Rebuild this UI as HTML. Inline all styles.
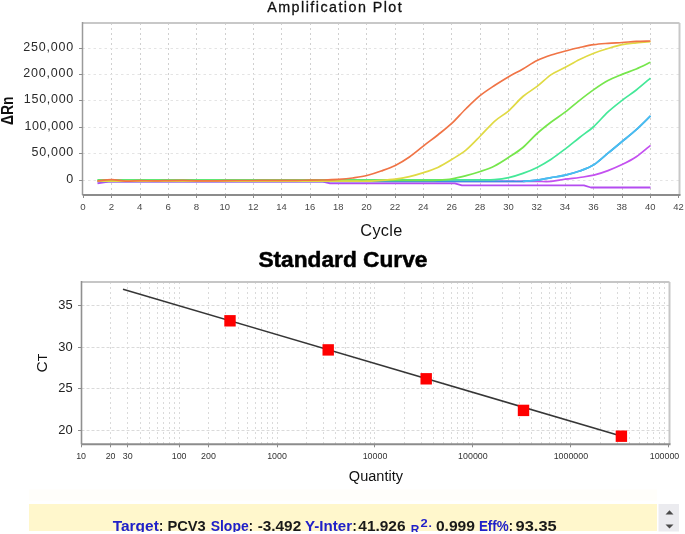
<!DOCTYPE html>
<html><head><meta charset="utf-8"><style>
html,body{margin:0;padding:0;background:#fff;width:685px;height:534px;overflow:hidden}
svg text{font-family:"Liberation Sans", sans-serif}
</style></head><body>
<svg width="685" height="534" viewBox="0 0 685 534" style="position:absolute;left:0;top:0;filter:blur(0.35px)">
<rect x="0" y="0" width="685" height="534" fill="#fff"/>
<line x1="111.5" y1="23.0" x2="111.5" y2="195.0" stroke="#d0d0d0" stroke-width="1" stroke-dasharray="2,3"/>
<line x1="140.5" y1="23.0" x2="140.5" y2="195.0" stroke="#d0d0d0" stroke-width="1" stroke-dasharray="2,3"/>
<line x1="168.5" y1="23.0" x2="168.5" y2="195.0" stroke="#d0d0d0" stroke-width="1" stroke-dasharray="2,3"/>
<line x1="196.5" y1="23.0" x2="196.5" y2="195.0" stroke="#d0d0d0" stroke-width="1" stroke-dasharray="2,3"/>
<line x1="225.5" y1="23.0" x2="225.5" y2="195.0" stroke="#d0d0d0" stroke-width="1" stroke-dasharray="2,3"/>
<line x1="253.5" y1="23.0" x2="253.5" y2="195.0" stroke="#d0d0d0" stroke-width="1" stroke-dasharray="2,3"/>
<line x1="281.5" y1="23.0" x2="281.5" y2="195.0" stroke="#d0d0d0" stroke-width="1" stroke-dasharray="2,3"/>
<line x1="310.5" y1="23.0" x2="310.5" y2="195.0" stroke="#d0d0d0" stroke-width="1" stroke-dasharray="2,3"/>
<line x1="338.5" y1="23.0" x2="338.5" y2="195.0" stroke="#d0d0d0" stroke-width="1" stroke-dasharray="2,3"/>
<line x1="366.5" y1="23.0" x2="366.5" y2="195.0" stroke="#d0d0d0" stroke-width="1" stroke-dasharray="2,3"/>
<line x1="395.5" y1="23.0" x2="395.5" y2="195.0" stroke="#d0d0d0" stroke-width="1" stroke-dasharray="2,3"/>
<line x1="423.5" y1="23.0" x2="423.5" y2="195.0" stroke="#d0d0d0" stroke-width="1" stroke-dasharray="2,3"/>
<line x1="451.5" y1="23.0" x2="451.5" y2="195.0" stroke="#d0d0d0" stroke-width="1" stroke-dasharray="2,3"/>
<line x1="480.5" y1="23.0" x2="480.5" y2="195.0" stroke="#d0d0d0" stroke-width="1" stroke-dasharray="2,3"/>
<line x1="508.5" y1="23.0" x2="508.5" y2="195.0" stroke="#d0d0d0" stroke-width="1" stroke-dasharray="2,3"/>
<line x1="537.5" y1="23.0" x2="537.5" y2="195.0" stroke="#d0d0d0" stroke-width="1" stroke-dasharray="2,3"/>
<line x1="565.5" y1="23.0" x2="565.5" y2="195.0" stroke="#d0d0d0" stroke-width="1" stroke-dasharray="2,3"/>
<line x1="593.5" y1="23.0" x2="593.5" y2="195.0" stroke="#d0d0d0" stroke-width="1" stroke-dasharray="2,3"/>
<line x1="622.5" y1="23.0" x2="622.5" y2="195.0" stroke="#d0d0d0" stroke-width="1" stroke-dasharray="2,3"/>
<line x1="650.5" y1="23.0" x2="650.5" y2="195.0" stroke="#d0d0d0" stroke-width="1" stroke-dasharray="2,3"/>
<line x1="82.5" y1="180.5" x2="679.5" y2="180.5" stroke="#e4e4e4" stroke-width="1" stroke-dasharray="2.5,3"/>
<line x1="82.5" y1="153.5" x2="679.5" y2="153.5" stroke="#e4e4e4" stroke-width="1" stroke-dasharray="2.5,3"/>
<line x1="82.5" y1="127.5" x2="679.5" y2="127.5" stroke="#e4e4e4" stroke-width="1" stroke-dasharray="2.5,3"/>
<line x1="82.5" y1="100.5" x2="679.5" y2="100.5" stroke="#e4e4e4" stroke-width="1" stroke-dasharray="2.5,3"/>
<line x1="82.5" y1="74.5" x2="679.5" y2="74.5" stroke="#e4e4e4" stroke-width="1" stroke-dasharray="2.5,3"/>
<line x1="82.5" y1="48.5" x2="679.5" y2="48.5" stroke="#e4e4e4" stroke-width="1" stroke-dasharray="2.5,3"/>
<path d="M97.5,183.3 L108.8,181.6 L322.9,181.6 L330.0,183.3 L454.8,183.3 L461.9,185.3 L583.9,185.3 L590.9,187.5 L650.5,187.5" fill="none" stroke="#b44cf0" stroke-width="1.8" stroke-linejoin="round"/>
<path d="M97.5,181.4 C99.8,181.4 106.9,181.4 111.7,181.4 C116.4,181.4 121.1,181.4 125.8,181.4 C130.6,181.4 135.3,181.4 140.0,181.4 C144.7,181.4 149.5,181.4 154.2,181.4 C158.9,181.4 163.7,181.4 168.4,181.4 C173.1,181.4 177.8,181.4 182.6,181.4 C187.3,181.4 192.0,181.4 196.7,181.4 C201.5,181.4 206.2,181.4 210.9,181.4 C215.6,181.4 220.4,181.4 225.1,181.4 C229.8,181.4 234.6,181.4 239.3,181.4 C244.0,181.4 248.7,181.4 253.5,181.4 C258.2,181.4 262.9,181.4 267.6,181.4 C272.4,181.4 277.1,181.4 281.8,181.4 C286.5,181.4 291.3,181.4 296.0,181.4 C300.7,181.4 305.5,181.4 310.2,181.4 C314.9,181.4 319.6,181.4 324.4,181.4 C329.1,181.4 333.8,181.4 338.5,181.4 C343.3,181.4 348.0,181.4 352.7,181.4 C357.4,181.4 362.2,181.4 366.9,181.4 C371.6,181.4 376.4,181.4 381.1,181.4 C385.8,181.4 390.5,181.4 395.3,181.4 C400.0,181.4 404.7,181.4 409.4,181.4 C414.2,181.4 418.9,181.4 423.6,181.4 C428.3,181.4 433.1,181.4 437.8,181.4 C442.5,181.4 447.3,181.4 452.0,181.4 C456.7,181.4 461.4,181.4 466.2,181.4 C470.9,181.4 475.6,181.4 480.3,181.4 C485.1,181.4 489.8,181.4 494.5,181.4 C499.2,181.4 504.0,181.4 508.7,181.4 C513.4,181.4 518.2,181.4 522.9,181.4 C527.6,181.4 532.3,181.4 537.1,181.4 C541.8,181.4 546.5,181.8 551.2,181.4 C556.0,181.0 560.7,179.8 565.4,179.2 C570.1,178.5 574.9,178.2 579.6,177.5 C584.3,176.8 589.1,176.3 593.8,175.2 C598.5,174.0 603.2,172.4 608.0,170.6 C612.7,168.8 617.4,166.9 622.1,164.6 C626.9,162.3 631.6,160.0 636.3,156.8 C641.0,153.6 648.1,147.3 650.5,145.4" fill="none" stroke="#c450f0" stroke-width="1.7" stroke-linejoin="round"/>
<path d="M97.5,181.4 C99.8,181.4 106.9,181.4 111.7,181.4 C116.4,181.4 121.1,181.4 125.8,181.4 C130.6,181.4 135.3,181.4 140.0,181.4 C144.7,181.4 149.5,181.4 154.2,181.4 C158.9,181.4 163.7,181.4 168.4,181.4 C173.1,181.4 177.8,181.4 182.6,181.4 C187.3,181.4 192.0,181.4 196.7,181.4 C201.5,181.4 206.2,181.4 210.9,181.4 C215.6,181.4 220.4,181.4 225.1,181.4 C229.8,181.4 234.6,181.4 239.3,181.4 C244.0,181.4 248.7,181.4 253.5,181.4 C258.2,181.4 262.9,181.4 267.6,181.4 C272.4,181.4 277.1,181.4 281.8,181.4 C286.5,181.4 291.3,181.4 296.0,181.4 C300.7,181.4 305.5,181.4 310.2,181.4 C314.9,181.4 319.6,181.4 324.4,181.4 C329.1,181.4 333.8,181.4 338.5,181.4 C343.3,181.4 348.0,181.4 352.7,181.4 C357.4,181.4 362.2,181.4 366.9,181.4 C371.6,181.4 376.4,181.4 381.1,181.4 C385.8,181.4 390.5,181.4 395.3,181.4 C400.0,181.4 404.7,181.4 409.4,181.4 C414.2,181.4 418.9,181.4 423.6,181.4 C428.3,181.4 433.1,181.4 437.8,181.4 C442.5,181.4 447.3,181.4 452.0,181.4 C456.7,181.4 461.4,181.4 466.2,181.4 C470.9,181.4 475.6,181.4 480.3,181.4 C485.1,181.4 489.8,181.4 494.5,181.4 C499.2,181.4 504.0,181.4 508.7,181.4 C513.4,181.4 518.2,181.6 522.9,181.4 C527.6,181.2 532.3,180.8 537.1,180.2 C541.8,179.6 546.5,178.4 551.2,177.6 C556.0,176.8 560.7,176.2 565.4,175.1 C570.1,174.0 574.9,172.7 579.6,171.0 C584.3,169.3 589.1,167.8 593.8,164.8 C598.5,161.8 603.2,157.1 608.0,153.2 C612.7,149.3 617.4,145.4 622.1,141.5 C626.9,137.6 631.6,134.0 636.3,129.7 C641.0,125.4 648.1,118.2 650.5,115.9" fill="none" stroke="#3c90e4" stroke-width="1.7" stroke-linejoin="round"/>
<path d="M97.5,179.9 C99.8,179.9 106.9,179.9 111.7,179.9 C116.4,179.9 121.1,179.9 125.8,179.9 C130.6,179.9 135.3,179.9 140.0,179.9 C144.7,179.9 149.5,179.9 154.2,179.9 C158.9,179.9 163.7,179.9 168.4,179.9 C173.1,179.9 177.8,179.9 182.6,179.9 C187.3,179.9 192.0,179.9 196.7,179.9 C201.5,179.9 206.2,179.9 210.9,179.9 C215.6,179.9 220.4,179.9 225.1,179.9 C229.8,179.9 234.6,179.9 239.3,179.9 C244.0,179.9 248.7,179.9 253.5,179.9 C258.2,179.9 262.9,179.9 267.6,179.9 C272.4,179.9 277.1,179.9 281.8,179.9 C286.5,179.9 291.3,179.9 296.0,179.9 C300.7,179.9 305.5,179.9 310.2,179.9 C314.9,179.9 319.6,179.9 324.4,179.9 C329.1,179.9 333.8,179.9 338.5,179.9 C343.3,179.9 348.0,179.9 352.7,179.9 C357.4,179.9 362.2,179.9 366.9,179.9 C371.6,179.9 376.4,179.9 381.1,179.9 C385.8,179.9 390.5,179.9 395.3,179.9 C400.0,179.9 404.7,179.9 409.4,179.9 C414.2,179.9 418.9,179.9 423.6,179.9 C428.3,179.9 433.1,179.9 437.8,179.9 C442.5,179.9 447.3,179.9 452.0,179.9 C456.7,179.9 461.4,179.9 466.2,179.9 C470.9,179.9 475.6,180.0 480.3,179.9 C485.1,179.8 489.8,180.0 494.5,179.6 C499.2,179.2 504.0,178.6 508.7,177.6 C513.4,176.6 518.2,175.1 522.9,173.4 C527.6,171.7 532.3,169.8 537.1,167.4 C541.8,165.0 546.5,162.3 551.2,159.2 C556.0,156.1 560.7,152.4 565.4,148.8 C570.1,145.2 574.9,141.2 579.6,137.5 C584.3,133.8 589.1,130.8 593.8,126.5 C598.5,122.2 603.2,116.3 608.0,111.9 C612.7,107.5 617.4,104.0 622.1,100.3 C626.9,96.6 631.6,93.7 636.3,90.0 C641.0,86.3 648.1,80.1 650.5,78.1" fill="none" stroke="#44e898" stroke-width="1.7" stroke-linejoin="round"/>
<path d="M97.5,180.4 C99.8,180.4 106.9,180.4 111.7,180.4 C116.4,180.4 121.1,180.4 125.8,180.4 C130.6,180.4 135.3,180.4 140.0,180.4 C144.7,180.4 149.5,180.4 154.2,180.4 C158.9,180.4 163.7,180.4 168.4,180.4 C173.1,180.4 177.8,180.4 182.6,180.4 C187.3,180.4 192.0,180.4 196.7,180.4 C201.5,180.4 206.2,180.4 210.9,180.4 C215.6,180.4 220.4,180.4 225.1,180.4 C229.8,180.4 234.6,180.4 239.3,180.4 C244.0,180.4 248.7,180.4 253.5,180.4 C258.2,180.4 262.9,180.4 267.6,180.4 C272.4,180.4 277.1,180.4 281.8,180.4 C286.5,180.4 291.3,180.4 296.0,180.4 C300.7,180.4 305.5,180.4 310.2,180.4 C314.9,180.4 319.6,180.4 324.4,180.4 C329.1,180.4 333.8,180.4 338.5,180.4 C343.3,180.4 348.0,180.4 352.7,180.4 C357.4,180.4 362.2,180.4 366.9,180.4 C371.6,180.4 376.4,180.4 381.1,180.4 C385.8,180.4 390.5,180.4 395.3,180.4 C400.0,180.4 404.7,180.4 409.4,180.4 C414.2,180.4 418.9,180.4 423.6,180.4 C428.3,180.4 433.1,180.5 437.8,180.2 C442.5,179.9 447.3,179.6 452.0,178.8 C456.7,178.0 461.4,176.8 466.2,175.6 C470.9,174.4 475.6,173.1 480.3,171.5 C485.1,169.9 489.8,168.4 494.5,166.0 C499.2,163.6 504.0,160.4 508.7,157.3 C513.4,154.2 518.2,151.5 522.9,147.5 C527.6,143.5 532.3,137.8 537.1,133.5 C541.8,129.2 546.5,125.6 551.2,122.0 C556.0,118.4 560.7,115.5 565.4,111.9 C570.1,108.3 574.9,104.0 579.6,100.3 C584.3,96.6 589.1,92.9 593.8,89.6 C598.5,86.3 603.2,83.0 608.0,80.5 C612.7,78.0 617.4,76.3 622.1,74.4 C626.9,72.5 631.6,71.0 636.3,69.0 C641.0,67.0 648.1,63.4 650.5,62.3" fill="none" stroke="#76e64c" stroke-width="1.7" stroke-linejoin="round"/>
<path d="M97.5,181.2 C99.8,181.2 106.9,181.2 111.7,181.2 C116.4,181.2 121.1,181.2 125.8,181.2 C130.6,181.2 135.3,181.2 140.0,181.2 C144.7,181.2 149.5,181.2 154.2,181.2 C158.9,181.2 163.7,181.2 168.4,181.2 C173.1,181.2 177.8,181.2 182.6,181.2 C187.3,181.2 192.0,181.2 196.7,181.2 C201.5,181.2 206.2,181.2 210.9,181.2 C215.6,181.2 220.4,181.2 225.1,181.2 C229.8,181.2 234.6,181.2 239.3,181.2 C244.0,181.2 248.7,181.2 253.5,181.2 C258.2,181.2 262.9,181.2 267.6,181.2 C272.4,181.2 277.1,181.2 281.8,181.2 C286.5,181.2 291.3,181.2 296.0,181.2 C300.7,181.2 305.5,181.2 310.2,181.2 C314.9,181.2 319.6,181.2 324.4,181.2 C329.1,181.2 333.8,181.2 338.5,181.2 C343.3,181.2 348.0,181.2 352.7,181.2 C357.4,181.2 362.2,181.3 366.9,181.2 C371.6,181.1 376.4,180.7 381.1,180.4 C385.8,180.1 390.5,179.8 395.3,179.2 C400.0,178.6 404.7,177.7 409.4,176.6 C414.2,175.5 418.9,174.1 423.6,172.6 C428.3,171.1 433.1,169.6 437.8,167.4 C442.5,165.2 447.3,162.2 452.0,159.3 C456.7,156.4 461.4,153.8 466.2,149.9 C470.9,146.0 475.6,140.8 480.3,136.0 C485.1,131.2 489.8,125.5 494.5,121.3 C499.2,117.1 504.0,114.9 508.7,110.8 C513.4,106.7 518.2,100.6 522.9,96.5 C527.6,92.4 532.3,90.1 537.1,86.4 C541.8,82.8 546.5,77.8 551.2,74.6 C556.0,71.4 560.7,69.7 565.4,67.2 C570.1,64.7 574.9,61.8 579.6,59.5 C584.3,57.2 589.1,55.0 593.8,53.2 C598.5,51.4 603.2,49.9 608.0,48.5 C612.7,47.1 617.4,45.6 622.1,44.6 C626.9,43.6 631.6,43.3 636.3,42.8 C641.0,42.3 648.1,41.8 650.5,41.6" fill="none" stroke="#e0da44" stroke-width="1.7" stroke-linejoin="round"/>
<path d="M97.5,181.0 C99.8,180.8 106.9,179.6 111.7,179.6 C116.4,179.6 121.1,181.0 125.8,181.2 C130.6,181.4 135.3,180.6 140.0,180.6 C144.7,180.6 149.5,180.9 154.2,180.9 C158.9,180.9 163.7,180.7 168.4,180.6 C173.1,180.5 177.8,180.4 182.6,180.4 C187.3,180.4 192.0,180.7 196.7,180.8 C201.5,180.9 206.2,180.9 210.9,180.9 C215.6,180.9 220.4,180.8 225.1,180.7 C229.8,180.6 234.6,180.5 239.3,180.5 C244.0,180.5 248.7,180.5 253.5,180.5 C258.2,180.5 262.9,180.4 267.6,180.4 C272.4,180.4 277.1,180.3 281.8,180.3 C286.5,180.3 291.3,180.3 296.0,180.3 C300.7,180.3 305.5,180.2 310.2,180.2 C314.9,180.1 319.6,180.1 324.4,180.0 C329.1,179.9 333.8,179.7 338.5,179.4 C343.3,179.1 348.0,178.7 352.7,178.0 C357.4,177.3 362.2,176.7 366.9,175.5 C371.6,174.3 376.4,172.7 381.1,171.0 C385.8,169.3 390.5,167.7 395.3,165.4 C400.0,163.1 404.7,160.3 409.4,157.0 C414.2,153.7 418.9,149.5 423.6,145.8 C428.3,142.1 433.1,138.8 437.8,135.0 C442.5,131.2 447.3,127.6 452.0,123.2 C456.7,118.8 461.4,113.1 466.2,108.5 C470.9,103.9 475.6,99.2 480.3,95.4 C485.1,91.6 489.8,88.6 494.5,85.5 C499.2,82.4 504.0,79.5 508.7,76.7 C513.4,74.0 518.2,71.7 522.9,69.0 C527.6,66.3 532.3,62.8 537.1,60.5 C541.8,58.2 546.5,56.6 551.2,55.0 C556.0,53.4 560.7,52.2 565.4,51.0 C570.1,49.8 574.9,48.5 579.6,47.5 C584.3,46.5 589.1,45.4 593.8,44.7 C598.5,44.0 603.2,43.7 608.0,43.3 C612.7,42.9 617.4,42.8 622.1,42.5 C626.9,42.2 631.6,41.6 636.3,41.4 C641.0,41.1 648.1,41.1 650.5,41.0" fill="none" stroke="#f07446" stroke-width="1.7" stroke-linejoin="round"/>
<path d="M522.9,181.4 C525.2,181.2 532.3,180.8 537.1,180.2 C541.8,179.6 546.5,178.4 551.2,177.6 C556.0,176.8 560.7,176.2 565.4,175.1 C570.1,174.0 574.9,172.7 579.6,171.0 C584.3,169.3 589.1,167.8 593.8,164.8 C598.5,161.8 603.2,157.1 608.0,153.2 C612.7,149.3 617.4,145.4 622.1,141.5 C626.9,137.6 631.6,134.0 636.3,129.7 C641.0,125.4 648.1,118.2 650.5,115.9" fill="none" stroke="#48bff0" stroke-width="1.7" stroke-linejoin="round"/>
<line x1="82.5" y1="23.0" x2="679.5" y2="23.0" stroke="#c8c8c8" stroke-width="2"/>
<line x1="679.5" y1="23.0" x2="679.5" y2="195.0" stroke="#c8c8c8" stroke-width="2"/>
<line x1="82.5" y1="22.0" x2="82.5" y2="195.0" stroke="#9a9a9a" stroke-width="1.5"/>
<line x1="82.5" y1="195.0" x2="680.5" y2="195.0" stroke="#8c8c8c" stroke-width="2"/>
<line x1="79.0" y1="180.5" x2="82.5" y2="180.5" stroke="#8c8c8c" stroke-width="1"/>
<line x1="79.0" y1="153.5" x2="82.5" y2="153.5" stroke="#8c8c8c" stroke-width="1"/>
<line x1="79.0" y1="127.5" x2="82.5" y2="127.5" stroke="#8c8c8c" stroke-width="1"/>
<line x1="79.0" y1="100.5" x2="82.5" y2="100.5" stroke="#8c8c8c" stroke-width="1"/>
<line x1="79.0" y1="74.5" x2="82.5" y2="74.5" stroke="#8c8c8c" stroke-width="1"/>
<line x1="79.0" y1="48.5" x2="82.5" y2="48.5" stroke="#8c8c8c" stroke-width="1"/>
<line x1="83.5" y1="195.0" x2="83.5" y2="198.0" stroke="#8c8c8c" stroke-width="1"/>
<line x1="111.5" y1="195.0" x2="111.5" y2="198.0" stroke="#8c8c8c" stroke-width="1"/>
<line x1="140.5" y1="195.0" x2="140.5" y2="198.0" stroke="#8c8c8c" stroke-width="1"/>
<line x1="168.5" y1="195.0" x2="168.5" y2="198.0" stroke="#8c8c8c" stroke-width="1"/>
<line x1="196.5" y1="195.0" x2="196.5" y2="198.0" stroke="#8c8c8c" stroke-width="1"/>
<line x1="225.5" y1="195.0" x2="225.5" y2="198.0" stroke="#8c8c8c" stroke-width="1"/>
<line x1="253.5" y1="195.0" x2="253.5" y2="198.0" stroke="#8c8c8c" stroke-width="1"/>
<line x1="281.5" y1="195.0" x2="281.5" y2="198.0" stroke="#8c8c8c" stroke-width="1"/>
<line x1="310.5" y1="195.0" x2="310.5" y2="198.0" stroke="#8c8c8c" stroke-width="1"/>
<line x1="338.5" y1="195.0" x2="338.5" y2="198.0" stroke="#8c8c8c" stroke-width="1"/>
<line x1="366.5" y1="195.0" x2="366.5" y2="198.0" stroke="#8c8c8c" stroke-width="1"/>
<line x1="395.5" y1="195.0" x2="395.5" y2="198.0" stroke="#8c8c8c" stroke-width="1"/>
<line x1="423.5" y1="195.0" x2="423.5" y2="198.0" stroke="#8c8c8c" stroke-width="1"/>
<line x1="451.5" y1="195.0" x2="451.5" y2="198.0" stroke="#8c8c8c" stroke-width="1"/>
<line x1="480.5" y1="195.0" x2="480.5" y2="198.0" stroke="#8c8c8c" stroke-width="1"/>
<line x1="508.5" y1="195.0" x2="508.5" y2="198.0" stroke="#8c8c8c" stroke-width="1"/>
<line x1="537.5" y1="195.0" x2="537.5" y2="198.0" stroke="#8c8c8c" stroke-width="1"/>
<line x1="565.5" y1="195.0" x2="565.5" y2="198.0" stroke="#8c8c8c" stroke-width="1"/>
<line x1="593.5" y1="195.0" x2="593.5" y2="198.0" stroke="#8c8c8c" stroke-width="1"/>
<line x1="622.5" y1="195.0" x2="622.5" y2="198.0" stroke="#8c8c8c" stroke-width="1"/>
<line x1="650.5" y1="195.0" x2="650.5" y2="198.0" stroke="#8c8c8c" stroke-width="1"/>
<line x1="678.5" y1="195.0" x2="678.5" y2="198.0" stroke="#8c8c8c" stroke-width="1"/>
<text x="73.3" y="183.1" text-anchor="end" font-size="12.5" fill="#2a2a2a" textLength="6.5" lengthAdjust="spacing">0</text>
<text x="73.3" y="156.1" text-anchor="end" font-size="12.5" fill="#2a2a2a" textLength="41.8" lengthAdjust="spacing">50,000</text>
<text x="73.3" y="130.1" text-anchor="end" font-size="12.5" fill="#2a2a2a" textLength="48.8" lengthAdjust="spacing">100,000</text>
<text x="73.3" y="103.1" text-anchor="end" font-size="12.5" fill="#2a2a2a" textLength="49.5" lengthAdjust="spacing">150,000</text>
<text x="73.3" y="77.1" text-anchor="end" font-size="12.5" fill="#2a2a2a" textLength="50.0" lengthAdjust="spacing">200,000</text>
<text x="73.3" y="51.1" text-anchor="end" font-size="12.5" fill="#2a2a2a" textLength="50.0" lengthAdjust="spacing">250,000</text>
<text x="83.0" y="209.7" text-anchor="middle" font-size="9.5" fill="#484848" textLength="5.4" lengthAdjust="spacingAndGlyphs">0</text>
<text x="111.4" y="209.7" text-anchor="middle" font-size="9.5" fill="#484848" textLength="5.4" lengthAdjust="spacingAndGlyphs">2</text>
<text x="139.7" y="209.7" text-anchor="middle" font-size="9.5" fill="#484848" textLength="5.4" lengthAdjust="spacingAndGlyphs">4</text>
<text x="168.1" y="209.7" text-anchor="middle" font-size="9.5" fill="#484848" textLength="5.4" lengthAdjust="spacingAndGlyphs">6</text>
<text x="196.4" y="209.7" text-anchor="middle" font-size="9.5" fill="#484848" textLength="5.4" lengthAdjust="spacingAndGlyphs">8</text>
<text x="224.8" y="209.7" text-anchor="middle" font-size="9.5" fill="#484848" textLength="10.5" lengthAdjust="spacingAndGlyphs">10</text>
<text x="253.2" y="209.7" text-anchor="middle" font-size="9.5" fill="#484848" textLength="10.5" lengthAdjust="spacingAndGlyphs">12</text>
<text x="281.5" y="209.7" text-anchor="middle" font-size="9.5" fill="#484848" textLength="10.5" lengthAdjust="spacingAndGlyphs">14</text>
<text x="309.9" y="209.7" text-anchor="middle" font-size="9.5" fill="#484848" textLength="10.5" lengthAdjust="spacingAndGlyphs">16</text>
<text x="338.2" y="209.7" text-anchor="middle" font-size="9.5" fill="#484848" textLength="10.5" lengthAdjust="spacingAndGlyphs">18</text>
<text x="366.6" y="209.7" text-anchor="middle" font-size="9.5" fill="#484848" textLength="10.5" lengthAdjust="spacingAndGlyphs">20</text>
<text x="395.0" y="209.7" text-anchor="middle" font-size="9.5" fill="#484848" textLength="10.5" lengthAdjust="spacingAndGlyphs">22</text>
<text x="423.3" y="209.7" text-anchor="middle" font-size="9.5" fill="#484848" textLength="10.5" lengthAdjust="spacingAndGlyphs">24</text>
<text x="451.7" y="209.7" text-anchor="middle" font-size="9.5" fill="#484848" textLength="10.5" lengthAdjust="spacingAndGlyphs">26</text>
<text x="480.0" y="209.7" text-anchor="middle" font-size="9.5" fill="#484848" textLength="10.5" lengthAdjust="spacingAndGlyphs">28</text>
<text x="508.4" y="209.7" text-anchor="middle" font-size="9.5" fill="#484848" textLength="10.5" lengthAdjust="spacingAndGlyphs">30</text>
<text x="536.8" y="209.7" text-anchor="middle" font-size="9.5" fill="#484848" textLength="10.5" lengthAdjust="spacingAndGlyphs">32</text>
<text x="565.1" y="209.7" text-anchor="middle" font-size="9.5" fill="#484848" textLength="10.5" lengthAdjust="spacingAndGlyphs">34</text>
<text x="593.5" y="209.7" text-anchor="middle" font-size="9.5" fill="#484848" textLength="10.5" lengthAdjust="spacingAndGlyphs">36</text>
<text x="621.8" y="209.7" text-anchor="middle" font-size="9.5" fill="#484848" textLength="10.5" lengthAdjust="spacingAndGlyphs">38</text>
<text x="650.2" y="209.7" text-anchor="middle" font-size="9.5" fill="#484848" textLength="10.5" lengthAdjust="spacingAndGlyphs">40</text>
<text x="678.6" y="209.7" text-anchor="middle" font-size="9.5" fill="#484848" textLength="10.5" lengthAdjust="spacingAndGlyphs">42</text>
<text x="334.5" y="11.7" text-anchor="middle" font-size="14.3" fill="#111" textLength="134.5" lengthAdjust="spacing" stroke="#111" stroke-width="0.3">Amplification Plot</text>
<text x="381.3" y="236.0" text-anchor="middle" font-size="16.3" fill="#111" textLength="42.0" lengthAdjust="spacing">Cycle</text>
<text transform="translate(12.9,110.8) rotate(-90)" text-anchor="middle" font-size="16" font-weight="bold" fill="#111" textLength="28.5" lengthAdjust="spacingAndGlyphs">ΔRn</text>
<line x1="110.5" y1="282.0" x2="110.5" y2="444.3" stroke="#dadada" stroke-width="1" stroke-dasharray="2,3"/>
<line x1="127.5" y1="282.0" x2="127.5" y2="444.3" stroke="#dadada" stroke-width="1" stroke-dasharray="2,3"/>
<line x1="140.5" y1="282.0" x2="140.5" y2="444.3" stroke="#dadada" stroke-width="1" stroke-dasharray="2,3"/>
<line x1="149.5" y1="282.0" x2="149.5" y2="444.3" stroke="#dadada" stroke-width="1" stroke-dasharray="2,3"/>
<line x1="157.5" y1="282.0" x2="157.5" y2="444.3" stroke="#dadada" stroke-width="1" stroke-dasharray="2,3"/>
<line x1="163.5" y1="282.0" x2="163.5" y2="444.3" stroke="#dadada" stroke-width="1" stroke-dasharray="2,3"/>
<line x1="169.5" y1="282.0" x2="169.5" y2="444.3" stroke="#dadada" stroke-width="1" stroke-dasharray="2,3"/>
<line x1="174.5" y1="282.0" x2="174.5" y2="444.3" stroke="#dadada" stroke-width="1" stroke-dasharray="2,3"/>
<line x1="179.5" y1="282.0" x2="179.5" y2="444.3" stroke="#dadada" stroke-width="1" stroke-dasharray="2,3"/>
<line x1="208.5" y1="282.0" x2="208.5" y2="444.3" stroke="#dadada" stroke-width="1" stroke-dasharray="2,3"/>
<line x1="225.5" y1="282.0" x2="225.5" y2="444.3" stroke="#dadada" stroke-width="1" stroke-dasharray="2,3"/>
<line x1="238.5" y1="282.0" x2="238.5" y2="444.3" stroke="#dadada" stroke-width="1" stroke-dasharray="2,3"/>
<line x1="247.5" y1="282.0" x2="247.5" y2="444.3" stroke="#dadada" stroke-width="1" stroke-dasharray="2,3"/>
<line x1="255.5" y1="282.0" x2="255.5" y2="444.3" stroke="#dadada" stroke-width="1" stroke-dasharray="2,3"/>
<line x1="261.5" y1="282.0" x2="261.5" y2="444.3" stroke="#dadada" stroke-width="1" stroke-dasharray="2,3"/>
<line x1="267.5" y1="282.0" x2="267.5" y2="444.3" stroke="#dadada" stroke-width="1" stroke-dasharray="2,3"/>
<line x1="272.5" y1="282.0" x2="272.5" y2="444.3" stroke="#dadada" stroke-width="1" stroke-dasharray="2,3"/>
<line x1="277.5" y1="282.0" x2="277.5" y2="444.3" stroke="#dadada" stroke-width="1" stroke-dasharray="2,3"/>
<line x1="306.5" y1="282.0" x2="306.5" y2="444.3" stroke="#dadada" stroke-width="1" stroke-dasharray="2,3"/>
<line x1="323.5" y1="282.0" x2="323.5" y2="444.3" stroke="#dadada" stroke-width="1" stroke-dasharray="2,3"/>
<line x1="335.5" y1="282.0" x2="335.5" y2="444.3" stroke="#dadada" stroke-width="1" stroke-dasharray="2,3"/>
<line x1="345.5" y1="282.0" x2="345.5" y2="444.3" stroke="#dadada" stroke-width="1" stroke-dasharray="2,3"/>
<line x1="353.5" y1="282.0" x2="353.5" y2="444.3" stroke="#dadada" stroke-width="1" stroke-dasharray="2,3"/>
<line x1="359.5" y1="282.0" x2="359.5" y2="444.3" stroke="#dadada" stroke-width="1" stroke-dasharray="2,3"/>
<line x1="365.5" y1="282.0" x2="365.5" y2="444.3" stroke="#dadada" stroke-width="1" stroke-dasharray="2,3"/>
<line x1="370.5" y1="282.0" x2="370.5" y2="444.3" stroke="#dadada" stroke-width="1" stroke-dasharray="2,3"/>
<line x1="374.5" y1="282.0" x2="374.5" y2="444.3" stroke="#dadada" stroke-width="1" stroke-dasharray="2,3"/>
<line x1="404.5" y1="282.0" x2="404.5" y2="444.3" stroke="#dadada" stroke-width="1" stroke-dasharray="2,3"/>
<line x1="421.5" y1="282.0" x2="421.5" y2="444.3" stroke="#dadada" stroke-width="1" stroke-dasharray="2,3"/>
<line x1="433.5" y1="282.0" x2="433.5" y2="444.3" stroke="#dadada" stroke-width="1" stroke-dasharray="2,3"/>
<line x1="443.5" y1="282.0" x2="443.5" y2="444.3" stroke="#dadada" stroke-width="1" stroke-dasharray="2,3"/>
<line x1="451.5" y1="282.0" x2="451.5" y2="444.3" stroke="#dadada" stroke-width="1" stroke-dasharray="2,3"/>
<line x1="457.5" y1="282.0" x2="457.5" y2="444.3" stroke="#dadada" stroke-width="1" stroke-dasharray="2,3"/>
<line x1="463.5" y1="282.0" x2="463.5" y2="444.3" stroke="#dadada" stroke-width="1" stroke-dasharray="2,3"/>
<line x1="468.5" y1="282.0" x2="468.5" y2="444.3" stroke="#dadada" stroke-width="1" stroke-dasharray="2,3"/>
<line x1="472.5" y1="282.0" x2="472.5" y2="444.3" stroke="#dadada" stroke-width="1" stroke-dasharray="2,3"/>
<line x1="502.5" y1="282.0" x2="502.5" y2="444.3" stroke="#dadada" stroke-width="1" stroke-dasharray="2,3"/>
<line x1="519.5" y1="282.0" x2="519.5" y2="444.3" stroke="#dadada" stroke-width="1" stroke-dasharray="2,3"/>
<line x1="531.5" y1="282.0" x2="531.5" y2="444.3" stroke="#dadada" stroke-width="1" stroke-dasharray="2,3"/>
<line x1="541.5" y1="282.0" x2="541.5" y2="444.3" stroke="#dadada" stroke-width="1" stroke-dasharray="2,3"/>
<line x1="549.5" y1="282.0" x2="549.5" y2="444.3" stroke="#dadada" stroke-width="1" stroke-dasharray="2,3"/>
<line x1="555.5" y1="282.0" x2="555.5" y2="444.3" stroke="#dadada" stroke-width="1" stroke-dasharray="2,3"/>
<line x1="561.5" y1="282.0" x2="561.5" y2="444.3" stroke="#dadada" stroke-width="1" stroke-dasharray="2,3"/>
<line x1="566.5" y1="282.0" x2="566.5" y2="444.3" stroke="#dadada" stroke-width="1" stroke-dasharray="2,3"/>
<line x1="570.5" y1="282.0" x2="570.5" y2="444.3" stroke="#dadada" stroke-width="1" stroke-dasharray="2,3"/>
<line x1="600.5" y1="282.0" x2="600.5" y2="444.3" stroke="#dadada" stroke-width="1" stroke-dasharray="2,3"/>
<line x1="617.5" y1="282.0" x2="617.5" y2="444.3" stroke="#dadada" stroke-width="1" stroke-dasharray="2,3"/>
<line x1="629.5" y1="282.0" x2="629.5" y2="444.3" stroke="#dadada" stroke-width="1" stroke-dasharray="2,3"/>
<line x1="639.5" y1="282.0" x2="639.5" y2="444.3" stroke="#dadada" stroke-width="1" stroke-dasharray="2,3"/>
<line x1="647.5" y1="282.0" x2="647.5" y2="444.3" stroke="#dadada" stroke-width="1" stroke-dasharray="2,3"/>
<line x1="653.5" y1="282.0" x2="653.5" y2="444.3" stroke="#dadada" stroke-width="1" stroke-dasharray="2,3"/>
<line x1="659.5" y1="282.0" x2="659.5" y2="444.3" stroke="#dadada" stroke-width="1" stroke-dasharray="2,3"/>
<line x1="664.5" y1="282.0" x2="664.5" y2="444.3" stroke="#dadada" stroke-width="1" stroke-dasharray="2,3"/>
<line x1="81.5" y1="430.5" x2="669.5" y2="430.5" stroke="#dadada" stroke-width="1" stroke-dasharray="3,2"/>
<line x1="81.5" y1="388.5" x2="669.5" y2="388.5" stroke="#dadada" stroke-width="1" stroke-dasharray="3,2"/>
<line x1="81.5" y1="347.5" x2="669.5" y2="347.5" stroke="#dadada" stroke-width="1" stroke-dasharray="3,2"/>
<line x1="81.5" y1="305.5" x2="669.5" y2="305.5" stroke="#dadada" stroke-width="1" stroke-dasharray="3,2"/>
<line x1="123" y1="289.3" x2="621" y2="436" stroke="#363636" stroke-width="1.5"/>
<rect x="224.3" y="315.1" width="11.4" height="11.4" fill="#ff0000"/>
<rect x="322.5" y="344.2" width="11.4" height="11.4" fill="#ff0000"/>
<rect x="420.5" y="373.1" width="11.4" height="11.4" fill="#ff0000"/>
<rect x="517.8" y="404.7" width="11.4" height="11.4" fill="#ff0000"/>
<rect x="615.7" y="430.5" width="11.4" height="11.4" fill="#ff0000"/>
<line x1="81.5" y1="282.0" x2="669.5" y2="282.0" stroke="#c6c6c6" stroke-width="2"/>
<line x1="669.5" y1="282.0" x2="669.5" y2="444.3" stroke="#c6c6c6" stroke-width="2"/>
<line x1="81.5" y1="281.0" x2="81.5" y2="444.3" stroke="#909090" stroke-width="1.6"/>
<line x1="81.5" y1="444.3" x2="670.5" y2="444.3" stroke="#8c8c8c" stroke-width="2"/>
<line x1="78.0" y1="430.5" x2="81.5" y2="430.5" stroke="#8c8c8c" stroke-width="1"/>
<line x1="78.0" y1="388.5" x2="81.5" y2="388.5" stroke="#8c8c8c" stroke-width="1"/>
<line x1="78.0" y1="347.5" x2="81.5" y2="347.5" stroke="#8c8c8c" stroke-width="1"/>
<line x1="78.0" y1="305.5" x2="81.5" y2="305.5" stroke="#8c8c8c" stroke-width="1"/>
<line x1="81.5" y1="444.3" x2="81.5" y2="447.3" stroke="#8c8c8c" stroke-width="1"/>
<line x1="110.5" y1="444.3" x2="110.5" y2="447.3" stroke="#8c8c8c" stroke-width="1"/>
<line x1="127.5" y1="444.3" x2="127.5" y2="447.3" stroke="#8c8c8c" stroke-width="1"/>
<line x1="179.5" y1="444.3" x2="179.5" y2="447.3" stroke="#8c8c8c" stroke-width="1"/>
<line x1="208.5" y1="444.3" x2="208.5" y2="447.3" stroke="#8c8c8c" stroke-width="1"/>
<line x1="277.5" y1="444.3" x2="277.5" y2="447.3" stroke="#8c8c8c" stroke-width="1"/>
<line x1="374.5" y1="444.3" x2="374.5" y2="447.3" stroke="#8c8c8c" stroke-width="1"/>
<line x1="472.5" y1="444.3" x2="472.5" y2="447.3" stroke="#8c8c8c" stroke-width="1"/>
<line x1="570.5" y1="444.3" x2="570.5" y2="447.3" stroke="#8c8c8c" stroke-width="1"/>
<line x1="668.5" y1="444.3" x2="668.5" y2="447.3" stroke="#8c8c8c" stroke-width="1"/>
<text x="81.1" y="459.1" text-anchor="middle" font-size="9" fill="#333" textLength="9.86" lengthAdjust="spacingAndGlyphs">10</text>
<text x="110.6" y="459.1" text-anchor="middle" font-size="9" fill="#333" textLength="9.86" lengthAdjust="spacingAndGlyphs">20</text>
<text x="127.8" y="459.1" text-anchor="middle" font-size="9" fill="#333" textLength="9.86" lengthAdjust="spacingAndGlyphs">30</text>
<text x="179.1" y="459.1" text-anchor="middle" font-size="9" fill="#333" textLength="14.79" lengthAdjust="spacingAndGlyphs">100</text>
<text x="208.5" y="459.1" text-anchor="middle" font-size="9" fill="#333" textLength="14.79" lengthAdjust="spacingAndGlyphs">200</text>
<text x="277.0" y="459.1" text-anchor="middle" font-size="9" fill="#333" textLength="19.72" lengthAdjust="spacingAndGlyphs">1000</text>
<text x="375.0" y="459.1" text-anchor="middle" font-size="9" fill="#333" textLength="24.65" lengthAdjust="spacingAndGlyphs">10000</text>
<text x="472.9" y="459.1" text-anchor="middle" font-size="9" fill="#333" textLength="29.58" lengthAdjust="spacingAndGlyphs">100000</text>
<text x="570.9" y="459.1" text-anchor="middle" font-size="9" fill="#333" textLength="34.51" lengthAdjust="spacingAndGlyphs">1000000</text>
<text x="664.5" y="459.1" text-anchor="middle" font-size="9" fill="#333" textLength="29.58" lengthAdjust="spacingAndGlyphs">100000</text>
<text x="72.6" y="433.6" text-anchor="end" font-size="13" fill="#222" textLength="14.4" lengthAdjust="spacingAndGlyphs">20</text>
<text x="72.6" y="392.1" text-anchor="end" font-size="13" fill="#222" textLength="14.4" lengthAdjust="spacingAndGlyphs">25</text>
<text x="72.6" y="350.6" text-anchor="end" font-size="13" fill="#222" textLength="14.4" lengthAdjust="spacingAndGlyphs">30</text>
<text x="72.6" y="309.1" text-anchor="end" font-size="13" fill="#222" textLength="14.4" lengthAdjust="spacingAndGlyphs">35</text>
<text x="342.9" y="266.9" text-anchor="middle" font-size="22" font-weight="bold" fill="#000" textLength="169.0" lengthAdjust="spacingAndGlyphs" stroke="#000" stroke-width="0.5">Standard Curve</text>
<text x="375.9" y="481.1" text-anchor="middle" font-size="14" fill="#111" textLength="54.1" lengthAdjust="spacingAndGlyphs">Quantity</text>
<text transform="translate(46.8,363.1) rotate(-90)" text-anchor="middle" font-size="15.5" fill="#111">C<tspan font-size="12.5">T</tspan></text>
<rect x="29" y="504" width="628" height="27" fill="#fff7cc"/><rect x="29" y="489.5" width="628" height="11" fill="#fffefa"/>
<rect x="658.5" y="504" width="20.5" height="27.5" fill="#ebebef"/>
<path d="M665.5,514.5 L669.5,510.3 L673.5,514.5 Z" fill="#4a4a4a"/>
<path d="M665.5,524.4 L669.5,528.6 L673.5,524.4 Z" fill="#4a4a4a"/>
<text x="112.7" y="531.0" font-size="14.5" font-weight="bold" fill="#2020c8" textLength="46.1" lengthAdjust="spacingAndGlyphs">Target</text>
<text x="159.1" y="531.0" font-size="14.5" font-weight="bold" fill="#1a1a1a" textLength="4.2" lengthAdjust="spacingAndGlyphs">:</text>
<text x="167.4" y="531.0" font-size="14.5" font-weight="bold" fill="#1a1a1a" textLength="38.4" lengthAdjust="spacingAndGlyphs">PCV3</text>
<text x="210.7" y="531.0" font-size="14.5" font-weight="bold" fill="#2020c8" textLength="38.0" lengthAdjust="spacingAndGlyphs">Slope</text>
<text x="248.8" y="531.0" font-size="14.5" font-weight="bold" fill="#1a1a1a" textLength="4.2" lengthAdjust="spacingAndGlyphs">:</text>
<text x="257.7" y="531.0" font-size="14.5" font-weight="bold" fill="#1a1a1a" textLength="43.5" lengthAdjust="spacingAndGlyphs">-3.492</text>
<text x="305.1" y="531.0" font-size="14.5" font-weight="bold" fill="#2020c8" textLength="47.0" lengthAdjust="spacingAndGlyphs">Y-Inter</text>
<text x="352.4" y="531.0" font-size="14.5" font-weight="bold" fill="#1a1a1a" textLength="4.2" lengthAdjust="spacingAndGlyphs">:</text>
<text x="358.3" y="531.0" font-size="14.5" font-weight="bold" fill="#1a1a1a" textLength="47.2" lengthAdjust="spacingAndGlyphs">41.926</text>
<text x="435.9" y="531.0" font-size="14.5" font-weight="bold" fill="#1a1a1a" textLength="39.1" lengthAdjust="spacingAndGlyphs">0.999</text>
<text x="478.9" y="531.0" font-size="14.5" font-weight="bold" fill="#2020c8" textLength="29.8" lengthAdjust="spacingAndGlyphs">Eff%</text>
<text x="508.8" y="531.0" font-size="14.5" font-weight="bold" fill="#1a1a1a" textLength="4.2" lengthAdjust="spacingAndGlyphs">:</text>
<text x="515.6" y="531.0" font-size="14.5" font-weight="bold" fill="#1a1a1a" textLength="41.1" lengthAdjust="spacingAndGlyphs">93.35</text>
<text x="410.8" y="534.3" font-size="12.5" font-weight="bold" fill="#2020c8" textLength="8.6" lengthAdjust="spacingAndGlyphs">R</text>
<text x="420.6" y="526.6" font-size="10" font-weight="bold" fill="#2020c8" textLength="7.2" lengthAdjust="spacingAndGlyphs">2</text>
<text x="428.6" y="526.8" font-size="11" font-weight="bold" fill="#2020c8" textLength="3.4" lengthAdjust="spacingAndGlyphs">.</text>
<rect x="0" y="532" width="685" height="2" fill="#fff"/>
</svg>
</body></html>
